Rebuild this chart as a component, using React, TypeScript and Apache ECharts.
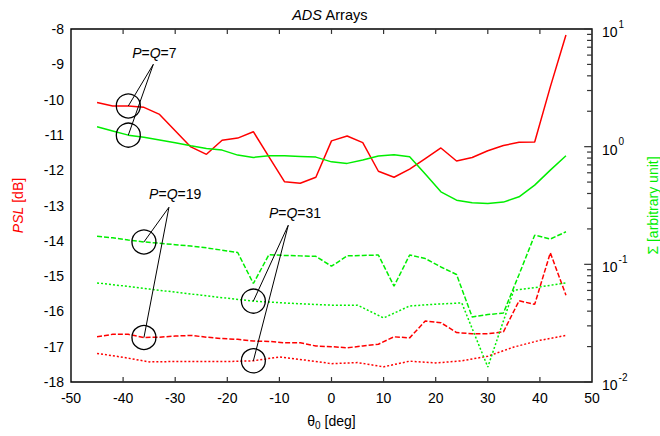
import React, { useEffect, useRef } from 'react';
import * as echarts from 'echarts';

const RED = '#ff0000';
const GREEN = '#00ee00';
const FONT = '"Liberation Sans", Arial, Helvetica, sans-serif';

// steering angles (deg)
const thetaStep3 = [
  -45, -42, -39, -36, -33, -30, -27, -24, -21, -18, -15, -12, -9, -6, -3, 0,
  3, 6, 9, 12, 15, 18, 21, 24, 27, 30, 33, 36, 39, 42, 45,
];
const thetaStep5 = [
  -45, -40, -35, -30, -25, -20, -15, -10, -5, 0, 5, 10, 15, 20, 25, 30, 35, 40, 45,
];

// PSL [dB]
const pslQ7 = [
  -10.08, -10.18, -10.18, -10.22, -10.42, -10.88, -11.34, -11.55, -11.15, -11.09,
  -10.91, -11.62, -12.33, -12.37, -12.2, -11.17, -11.03, -11.22, -12.03, -12.2,
  -11.97, -11.67, -11.37, -11.74, -11.64, -11.45, -11.3, -11.21, -11.2, -9.64, -8.17,
];
const pslQ19 = [
  -16.72, -16.65, -16.65, -16.74, -16.73, -16.7, -16.68, -16.73, -16.77, -16.79,
  -16.84, -16.85, -16.89, -16.89, -16.98, -17.0, -17.03, -16.98, -16.93, -16.72,
  -16.75, -16.27, -16.32, -16.6, -16.63, -16.63, -16.58, -15.7, -15.8, -14.34, -15.54,
];
const pslQ31 = [
  -17.19, -17.3, -17.43, -17.42, -17.42, -17.42, -17.4, -17.29, -17.38, -17.48,
  -17.45, -17.57, -17.41, -17.46, -17.4, -17.27, -17.01, -16.82, -16.68,
];

// Sigma [arbitrary unit]
const sigmaQ7 = [
  1.476, 1.36, 1.253, 1.2, 1.14, 1.08, 1.016, 0.966, 0.935, 0.848, 0.81, 0.836,
  0.836, 0.826, 0.815, 0.743, 0.721, 0.769, 0.832, 0.853, 0.82, 0.585, 0.413,
  0.351, 0.333, 0.329, 0.338, 0.375, 0.471, 0.632, 0.836,
];
const sigmaQ19 = [
  0.173, 0.168, 0.161, 0.155, 0.151, 0.147, 0.143, 0.138, 0.132, 0.126, 0.0687,
  0.121, 0.119, 0.118, 0.117, 0.0964, 0.118, 0.119, 0.12, 0.0652, 0.12, 0.112,
  0.095, 0.0819, 0.0357, 0.0374, 0.0386, 0.082, 0.177, 0.164, 0.189,
];
const sigmaQ31 = [
  0.0695, 0.0656, 0.0617, 0.058, 0.0547, 0.0515, 0.0487, 0.0472, 0.046, 0.045,
  0.045, 0.035, 0.0443, 0.0458, 0.047, 0.0134, 0.0603, 0.0643, 0.0695,
];

const thetaRange = [-50, 50];
const pslRange = [-18, -8];
const thetaTicks = [-40, -30, -20, -10, 0, 10, 20, 30, 40];
const sigmaDecades = [0.01, 0.1, 1, 10];
const minorMultipliers = [2, 3, 4, 5, 6, 7, 8, 9];

// callouts: label text, label position, line anchor, circled points
const callouts = [
  { n: '7', label: [-34, -8.68], anchor: [-34.2, -9.0], theta: -39, psl: -10.18, sigma: 1.253 },
  { n: '19', label: [-30, -12.68], anchor: [-31.2, -13.05], theta: -36, psl: -16.74, sigma: 0.155 },
  { n: '31', label: [-7, -13.22], anchor: [-8.3, -13.56], theta: -15, psl: -17.4, sigma: 0.0487 },
];

const pairs = (xs: number[], ys: number[]) => xs.map((x, i) => [x, ys[i]]);

export default function App() {
  const ref = useRef<HTMLDivElement>(null);

  useEffect(() => {
    if (!ref.current) return;
    const chart = echarts.init(ref.current, undefined, { renderer: 'svg' });

    const line = (name: string, xs: number[], ys: number[], color: string, type: any, yAxisIndex: number) => ({
      name,
      type: 'line',
      data: pairs(xs, ys),
      yAxisIndex,
      showSymbol: false,
      symbol: 'none',
      lineStyle: { color, width: 1.5, type },
      z: 3,
    });

    // tick marks as short unclipped line series
    const seg = (data: number[][], yAxisIndex: number, width: number, color = '#000') => ({
      type: 'line',
      data,
      yAxisIndex,
      symbol: 'none',
      showSymbol: false,
      clip: false,
      silent: true,
      z: 6,
      lineStyle: { color, width, type: 'solid' },
    });

    const [t0, t1] = thetaRange;
    const [p0, p1] = pslRange;
    const xTickLen = 0.14; // dB
    const majorLen = 1.5; // deg
    const minorLen = 0.95; // deg

    const tickSeries: any[] = [];
    thetaTicks.forEach((t) => {
      tickSeries.push(seg([[t, p0], [t, p0 + xTickLen]], 0, 1.2, '#333'));
      tickSeries.push(seg([[t, p1], [t, p1 - xTickLen]], 0, 1.2, '#333'));
    });
    sigmaDecades.forEach((d, i) => {
      tickSeries.push(seg([[t1 - majorLen, d], [t1, d]], 1, 1.2, '#333'));
      if (i === sigmaDecades.length - 1) return;
      minorMultipliers.forEach((m) => {
        tickSeries.push(seg([[t1 - minorLen, d * m], [t1, d * m]], 1, 1.2, '#333'));
      });
    });

    const supRich = {
      b: { fontSize: 14, fontFamily: FONT, color: '#000', lineHeight: 20, verticalAlign: 'bottom' },
      s: { fontSize: 10, fontFamily: FONT, color: '#000', verticalAlign: 'top', padding: [0, 0, 0, 1] },
    };

    const noLine = { show: false, onZero: false };

    chart.setOption({
      animation: false,
      backgroundColor: '#fff',
      title: {
        text: '{i|ADS} Arrays',
        left: 'center',
        top: 2,
        textStyle: {
          fontSize: 14.5,
          fontWeight: 'normal',
          fontFamily: FONT,
          color: '#000',
          rich: { i: { fontStyle: 'italic', fontSize: 14.5, fontFamily: FONT, color: '#000' } },
        },
      },
      // the grid border draws the plot frame
      grid: {
        show: true,
        left: 71,
        right: 68,
        top: 29,
        bottom: 54,
        borderColor: '#000',
        borderWidth: 1.4,
        backgroundColor: 'rgba(0,0,0,0)',
        outerBoundsMode: 'none',
        containLabel: false,
      },
      xAxis: [
        {
          type: 'value',
          min: t0,
          max: t1,
          interval: 10,
          position: 'bottom',
          name: 'θ{sub|0} [deg]',
          nameLocation: 'middle',
          nameGap: 29,
          nameTextStyle: {
            fontSize: 14,
            fontFamily: FONT,
            color: '#000',
            rich: { sub: { fontSize: 10, fontFamily: FONT, color: '#000', verticalAlign: 'top', padding: [9, 0, 0, 0] } },
          },
          axisLine: noLine,
          axisTick: { show: false },
          axisLabel: { fontSize: 14, fontFamily: FONT, color: '#000', margin: 9 },
          splitLine: { show: false },
        },
      ],
      yAxis: [
        {
          type: 'value',
          min: p0,
          max: p1,
          interval: 1,
          position: 'left',
          name: '{i|PSL} [dB]',
          nameLocation: 'middle',
          nameGap: 46,
          nameTextStyle: {
            fontSize: 14,
            fontFamily: FONT,
            color: RED,
            rich: { i: { fontStyle: 'italic', fontSize: 14, fontFamily: FONT, color: RED } },
          },
          axisLine: noLine,
          axisTick: { show: false },
          axisLabel: { fontSize: 14, fontFamily: FONT, color: '#000', margin: 7 },
          splitLine: { show: false },
        },
        {
          type: 'log',
          logBase: 10,
          min: sigmaDecades[0],
          max: sigmaDecades[sigmaDecades.length - 1],
          position: 'right',
          axisLine: noLine,
          axisTick: { show: false },
          axisLabel: {
            margin: 10,
            formatter: (v: number) => `{b|10}{s|${Math.round(Math.log10(v))}}`,
            rich: supRich,
          },
          splitLine: { show: false },
        },
      ],
      series: [
        line('PSL P=Q=7', thetaStep3, pslQ7, RED, 'solid', 0),
        line('Σ P=Q=7', thetaStep3, sigmaQ7, GREEN, 'solid', 1),
        line('PSL P=Q=19', thetaStep3, pslQ19, RED, [5, 2], 0),
        line('Σ P=Q=19', thetaStep3, sigmaQ19, GREEN, [5, 2], 1),
        line('PSL P=Q=31', thetaStep5, pslQ31, RED, [2, 2], 0),
        line('Σ P=Q=31', thetaStep5, sigmaQ31, GREEN, [2, 2], 1),
        ...tickSeries,
      ],
    });

    const left = (p: number[]) => chart.convertToPixel({ xAxisIndex: 0, yAxisIndex: 0 }, p) as number[];
    const right = (p: number[]) => chart.convertToPixel({ xAxisIndex: 0, yAxisIndex: 1 }, p) as number[];

    const graphics: any[] = [];
    const tl = left([t0, p1]);
    const br = left([t1, p0]);

    // right axis title, rotated to read upwards
    graphics.push({
      type: 'text',
      x: br[0] + 61,
      y: (tl[1] + br[1]) / 2,
      rotation: Math.PI / 2,
      silent: true,
      style: {
        text: 'Σ [arbitrary unit]',
        fontSize: 14,
        fontFamily: FONT,
        fill: GREEN,
        align: 'center',
        verticalAlign: 'middle',
      },
    });

    callouts.forEach((c) => {
      const a = left(c.anchor);
      const t = left(c.label);
      const pR = left([c.theta, c.psl]);
      const pG = right([c.theta, c.sigma]);
      [pR, pG].forEach((p) => {
        graphics.push({
          type: 'line',
          shape: { x1: a[0], y1: a[1], x2: p[0], y2: p[1] },
          style: { stroke: '#000', lineWidth: 1 },
          z: 10,
        });
        graphics.push({
          type: 'circle',
          shape: { cx: p[0], cy: p[1], r: 12 },
          style: { stroke: '#000', lineWidth: 1.3, fill: 'none' },
          z: 10,
        });
      });
      graphics.push({
        type: 'text',
        x: t[0],
        y: t[1],
        z: 10,
        style: {
          text: `{i|P}={i|Q}=${c.n}`,
          fontSize: 14,
          fontFamily: FONT,
          fill: '#000',
          align: 'center',
          verticalAlign: 'middle',
          rich: { i: { fontStyle: 'italic', fontSize: 14, fontFamily: FONT, fill: '#000' } },
        },
      });
    });

    chart.setOption({ graphic: graphics });

    return () => chart.dispose();
  }, []);

  return (
    <div
      ref={ref}
      style={{ position: 'fixed', left: 0, top: 0, width: 660, height: 436, background: '#fff' }}
    />
  );
}
